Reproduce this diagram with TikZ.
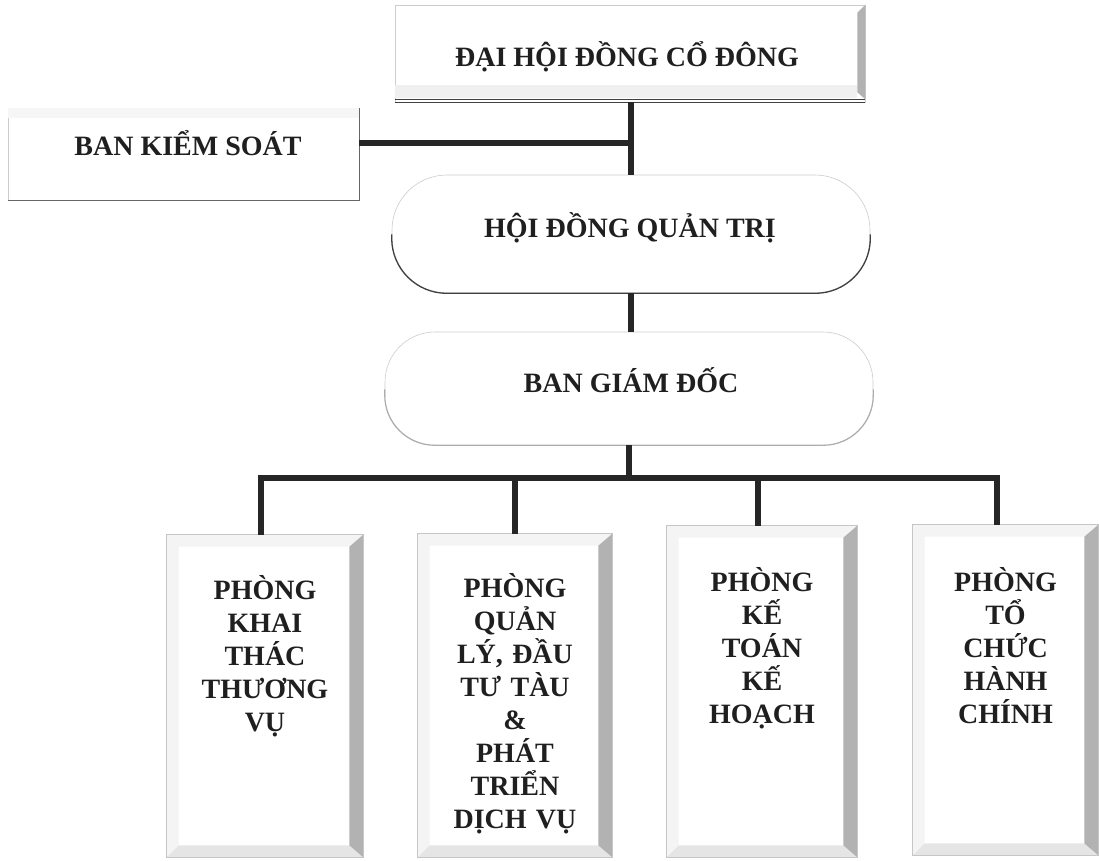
\documentclass[tikz,border=0pt]{standalone}
\usepackage{fontspec}
\setmainfont{Liberation Serif}
\usetikzlibrary{calc}
\newcommand\bevdeco[1]{%
  \fill[gray!9] (#1.north west) -- (#1.north east) -- ($(#1.north east)+(-14,12)$) -- ($(#1.north west)+(12,12)$) -- cycle;
  \fill[gray!9] (#1.north west) -- ($(#1.north west)+(12,12)$) -- ($(#1.south west)+(12,-12)$) -- (#1.south west) -- cycle;
  \fill[gray!20] (#1.south west) -- ($(#1.south west)+(12,-12)$) -- ($(#1.south east)+(-14,-12)$) -- (#1.south east) -- cycle;
  \fill[gray!60] (#1.north east) -- ($(#1.north east)+(-14,12)$) -- ($(#1.south east)+(-14,-12)$) -- (#1.south east) -- cycle;
  \draw[gray!45, line width=0.6pt] (#1.north west) rectangle (#1.south east);
}
\begin{document}
\begin{tikzpicture}[x=1pt,y=-1pt,
  conn/.style={line width=6pt, draw=black!85},
  frame/.style={draw=gray!40, line width=0.6pt, fill=white, inner sep=0pt},
  lbl/.style={font=\fontsize{28}{33}\selectfont\bfseries, text=black!88, inner sep=0pt, anchor=base},
  dlbl/.style={lbl, text width=190pt, align=center}]
\useasboundingbox (0,0) rectangle (1099,860);

% boxes
\node[frame, minimum width=470pt, minimum height=97pt] (dhcd) at (630,53.5) {};
\node[frame, minimum width=351pt, minimum height=92pt] (bks) at (183.5,154) {};
\node[frame, rounded corners=55pt, minimum width=478pt, minimum height=118pt] (hdqt) at (631,234) {};
\node[frame, rounded corners=50pt, minimum width=488pt, minimum height=113pt] (bgd) at (629,388.5) {};
\node[frame, minimum width=196pt, minimum height=322pt] (k1) at (265,696) {};
\node[frame, minimum width=194pt, minimum height=323pt] (k2) at (515,695.5) {};
\node[frame, minimum width=190pt, minimum height=331pt] (k3) at (762,691.5) {};
\node[frame, minimum width=185pt, minimum height=330pt] (k4) at (1005.5,690) {};

% decorations
\fill[gray!12] ($(dhcd.south west)+(0,-17)$) rectangle ($(dhcd.south east)+(-8,-4)$);
\fill[gray!60] (dhcd.north east) -- ($(dhcd.north east)+(-8,8)$) -- ($(dhcd.south east)+(-8,-10)$) -- ($(dhcd.south east)+(0,-3)$) -- cycle;
\draw[black!75, line width=1pt] ($(dhcd.south west)+(0,-3)$) -- ($(dhcd.south east)+(0,-3)$);
\draw[black!75, line width=1pt] (dhcd.south west) -- (dhcd.south east);

\fill[gray!7] (bks.north west) rectangle ($(bks.north east)+(0,10)$);
\draw[black!60, line width=1.2pt] (bks.north east) -- (bks.south east) -- (bks.south west);

\draw[black!75, line width=1.3pt, rounded corners=55pt] ($(hdqt.south west)+(0,-59)$) -- (hdqt.south west) -- (hdqt.south east) -- ($(hdqt.south east)+(0,-59)$);
\draw[gray!65, line width=1.1pt, rounded corners=50pt] ($(bgd.south west)+(0,-56)$) -- (bgd.south west) -- (bgd.south east) -- ($(bgd.south east)+(0,-56)$);

\bevdeco{k1}
\bevdeco{k2}
\bevdeco{k3}
\bevdeco{k4}

% texts
\node[lbl] (t0) at (627,66) {ĐẠI HỘI ĐỒNG CỔ ĐÔNG};
\node[lbl] (t1) at (188,155) {BAN KIỂM SOÁT};
\node[lbl] (t2) at (630,237) {HỘI ĐỒNG QUẢN TRỊ};
\node[lbl] (t3) at (631,392) {BAN GIÁM ĐỐC};
\node[dlbl] (t4) at ($(k1.north)+(0,65)$) {PHÒNG\\KHAI\\THÁC\\THƯƠNG\\VỤ};
\node[dlbl] (t5) at ($(k2.north)+(0,64)$) {PHÒNG\\QUẢN\\LÝ, ĐẦU\\TƯ TÀU\\\&\\PHÁT\\TRIỂN\\DỊCH VỤ};
\node[dlbl] (t6) at ($(k3.north)+(0,66)$) {PHÒNG\\KẾ\\TOÁN\\KẾ\\HOẠCH};
\node[dlbl] (t7) at ($(k4.north)+(0,67)$) {PHÒNG\\TỔ\\CHỨC\\HÀNH\\CHÍNH};

% connectors
\coordinate (bksc) at ($(bks.east)+(0,-11)$);
\draw[conn] (bksc) -- (bksc -| hdqt.north);
\draw[conn] (hdqt.north |- dhcd.south) -- (hdqt.north);
\draw[conn] (hdqt.south) -- (bgd.north -| hdqt.south);
\coordinate (bus) at (630,478);
\draw[conn] (bgd.south) -- (bgd.south |- bus);
\coordinate (d1) at (261,478);
\coordinate (d2) at (515,478);
\coordinate (d3) at (758,478);
\coordinate (d4) at (997,478);
\draw[conn] (d1 |- k1.north) -- (d1) -- (d4) -- (d4 |- k4.north);
\draw[conn] (d2) -- (d2 |- k2.north);
\draw[conn] (d3) -- (d3 |- k3.north);
\end{tikzpicture}
\end{document}
